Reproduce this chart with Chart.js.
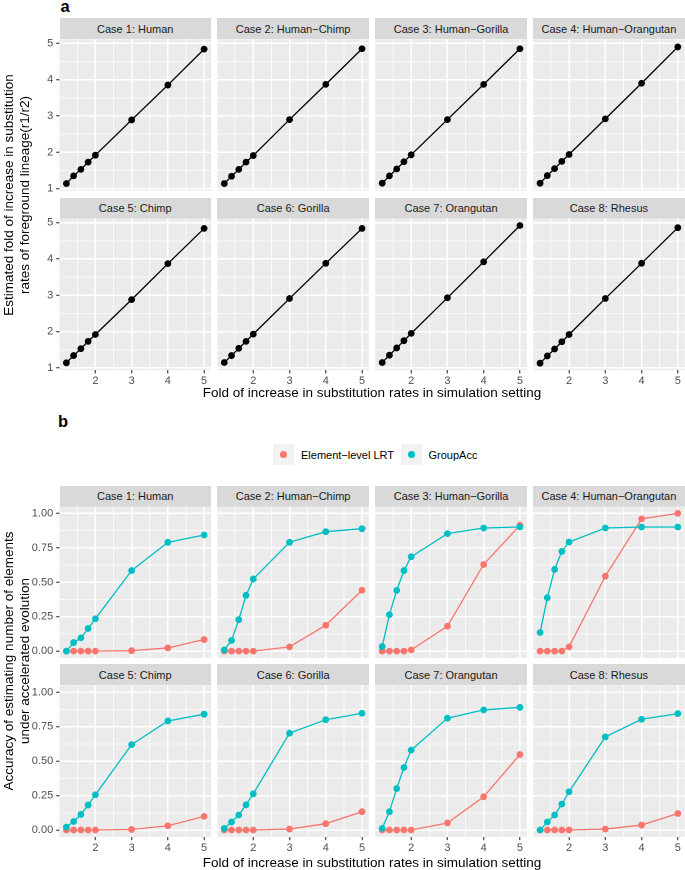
<!DOCTYPE html>
<html><head><meta charset="utf-8">
<script src="https://cdn.jsdelivr.net/npm/chart.js@4.4.0/dist/chart.umd.min.js"></script>
<style>
html,body{margin:0;padding:0;background:#fff;}
#wrap{position:relative;width:685px;height:870px;overflow:hidden;font-family:"Liberation Sans",Arial,Helvetica,sans-serif;}
.strip{position:absolute;background:#D9D9D9;color:#1A1A1A;font-size:11px;display:flex;align-items:center;justify-content:center;white-space:nowrap;}
.cv{position:absolute;}
.txt{position:absolute;white-space:nowrap;color:#000;line-height:1;}
</style></head><body><div id="wrap"></div>
<script>
const FONT = '"Liberation Sans", Arial, Helvetica, sans-serif';

// ---------- data ----------
const xValues = [1.2, 1.4, 1.6, 1.8, 2, 3, 4, 5];
const xMajorTicks = [2, 3, 4, 5];
const xMinorTicks = [1.5, 2.5, 3.5, 4.5];
const foldYMajorTicks = [1, 2, 3, 4, 5];
const foldYMinorTicks = [1.5, 2.5, 3.5, 4.5];
const accYMajorTicks = [0, 0.25, 0.5, 0.75, 1];
const accYMinorTicks = [0.125, 0.375, 0.625, 0.875];
const caseNames = ["Case 1: Human", "Case 2: Human\u2212Chimp", "Case 3: Human\u2212Gorilla", "Case 4: Human\u2212Orangutan",
                   "Case 5: Chimp", "Case 6: Gorilla", "Case 7: Orangutan", "Case 8: Rhesus"];
const seriesNames = ["Element\u2212level LRT", "GroupAcc"];

// panel a: estimated fold of increase (r1/r2)
const estFoldCase1 = [1.14, 1.35, 1.53, 1.73, 1.92, 2.89, 3.85, 4.84];
const estFoldCase2 = [1.14, 1.34, 1.53, 1.73, 1.91, 2.90, 3.87, 4.85];
const estFoldCase3 = [1.15, 1.35, 1.54, 1.74, 1.93, 2.90, 3.87, 4.85];
const estFoldCase4 = [1.15, 1.36, 1.55, 1.75, 1.94, 2.92, 3.90, 4.90];
const estFoldCase5 = [1.14, 1.34, 1.53, 1.73, 1.92, 2.88, 3.87, 4.84];
const estFoldCase6 = [1.15, 1.34, 1.54, 1.73, 1.93, 2.91, 3.88, 4.84];
const estFoldCase7 = [1.15, 1.35, 1.55, 1.75, 1.95, 2.93, 3.92, 4.92];
const estFoldCase8 = [1.13, 1.33, 1.52, 1.72, 1.92, 2.91, 3.88, 4.86];

// panel b: accuracy
const lrtCase1 = [0, 0, 0, 0, 0, 0.003, 0.023, 0.084];
const lrtCase2 = [0, 0, 0, 0, 0, 0.031, 0.188, 0.442];
const lrtCase3 = [0, 0, 0, 0, 0.009, 0.181, 0.629, 0.914];
const lrtCase4 = [0, 0, 0, 0, 0.031, 0.544, 0.960, 1.000];
const lrtCase5 = [0, 0, 0, 0, 0, 0.004, 0.031, 0.099];
const lrtCase6 = [0, 0, 0, 0, 0, 0.007, 0.046, 0.133];
const lrtCase7 = [0, 0, 0, 0, 0, 0.051, 0.241, 0.548];
const lrtCase8 = [0, 0, 0, 0, 0, 0.007, 0.036, 0.120];

const groupAccCase1 = [0.000, 0.062, 0.096, 0.164, 0.235, 0.585, 0.790, 0.843];
const groupAccCase2 = [0.009, 0.077, 0.228, 0.405, 0.524, 0.790, 0.867, 0.889];
const groupAccCase3 = [0.033, 0.265, 0.441, 0.585, 0.685, 0.853, 0.894, 0.901];
const groupAccCase4 = [0.135, 0.388, 0.593, 0.724, 0.792, 0.894, 0.901, 0.901];
const groupAccCase5 = [0.022, 0.062, 0.113, 0.181, 0.256, 0.620, 0.792, 0.841];
const groupAccCase6 = [0.012, 0.058, 0.109, 0.183, 0.263, 0.703, 0.801, 0.848];
const groupAccCase7 = [0.012, 0.133, 0.301, 0.454, 0.580, 0.812, 0.872, 0.891];
const groupAccCase8 = [0.000, 0.058, 0.109, 0.188, 0.278, 0.676, 0.804, 0.845];

const estFold = [estFoldCase1, estFoldCase2, estFoldCase3, estFoldCase4, estFoldCase5, estFoldCase6, estFoldCase7, estFoldCase8];
const lrt = [lrtCase1, lrtCase2, lrtCase3, lrtCase4, lrtCase5, lrtCase6, lrtCase7, lrtCase8];
const groupAcc = [groupAccCase1, groupAccCase2, groupAccCase3, groupAccCase4, groupAccCase5, groupAccCase6, groupAccCase7, groupAccCase8];

// ---------- styling / layout ----------
const COL_LRT = '#F8766D', COL_GA = '#00BFC4';
const PANEL_BG = '#EBEBEB';
const colLefts = [59.5, 217.4, 375.3, 533.2];
const PW = 151.5, PH = 151.5, STRIP_H = 21;
const aRowTops = [39.3, 218.6];
const bRowTops = [506.5, 685.4];
const X_MIN = 1.01, X_MAX = 5.19;
const TITLE_SIZE = 13.5;

const wrap = document.getElementById('wrap');
function addText(txt, x, y, size, opts = {}) {
  const d = document.createElement('div');
  d.className = 'txt';
  d.textContent = txt;
  d.style.fontSize = size + 'px';
  if (opts.bold) d.style.fontWeight = 'bold';
  if (opts.color) d.style.color = opts.color;
  d.style.left = x + 'px';
  d.style.top = y + 'px';
  let tr = 'translate(-50%,-50%)';
  if (opts.rot) tr += ' rotate(-90deg)';
  if (opts.anchor === 'left') tr = 'translate(0,-50%)';
  d.style.transform = tr;
  wrap.appendChild(d);
  return d;
}
function addStrip(txt, left, top, w) {
  const d = document.createElement('div');
  d.className = 'strip';
  d.style.left = left + 'px'; d.style.top = top + 'px';
  d.style.width = w + 'px'; d.style.height = STRIP_H + 'px';
  d.textContent = txt;
  wrap.appendChild(d);
}

const bgPlugin = {
  id: 'panelBg',
  beforeDraw(chart) {
    const a = chart.chartArea, c = chart.ctx;
    c.save(); c.fillStyle = PANEL_BG; c.fillRect(a.left, a.top, a.right - a.left, a.bottom - a.top); c.restore();
  }
};

function axisCfg(show, isY, min, max, major, minor, fmt, fixedSize) {
  const all = major.concat(minor).sort((p, q) => p - q);
  const isMajor = v => major.some(m => Math.abs(m - v) < 1e-9);
  return {
    type: 'linear', min, max, bounds: 'data',
    afterBuildTicks: s => { s.ticks = all.map(v => ({ value: v })); },
    afterFit: s => {
      if (isY) s.width = show ? fixedSize : 0; else s.height = show ? fixedSize : 0;
      s.paddingLeft = 0; s.paddingRight = 0; s.paddingTop = 0; s.paddingBottom = 0;
    },
    ticks: {
      display: show, autoSkip: false, maxRotation: 0, minRotation: 0,
      padding: isY ? 3 : 1, color: '#4D4D4D', font: { family: FONT, size: 11 },
      callback: v => isMajor(v) ? fmt(v) : ''
    },
    grid: {
      color: '#FFFFFF',
      lineWidth: ctx => (ctx.tick && isMajor(ctx.tick.value)) ? 1.5 : 0.75,
      drawTicks: show, tickLength: 3.3, tickWidth: 1.1,
      tickColor: ctx => (ctx.tick && isMajor(ctx.tick.value)) ? '#333333' : 'rgba(0,0,0,0)'
    },
    border: { display: false }
  };
}

function makePanel(p) {
  const M = 8, WY = 40, HX = 16;
  const extL = p.showY ? 48 : M;
  const extB = p.showX ? 22 : M;
  const cl = Math.floor(p.left - extL), ct = Math.floor(p.top - M);
  const cr = Math.ceil(p.left + PW + M), cb = Math.ceil(p.top + PH + extB);
  const cw = cr - cl, ch = cb - ct;
  const cv = document.createElement('canvas');
  cv.className = 'cv';
  cv.width = cw; cv.height = ch;
  cv.style.left = cl + 'px'; cv.style.top = ct + 'px';
  cv.style.width = cw + 'px'; cv.style.height = ch + 'px';
  wrap.appendChild(cv);
  const padding = {
    left: p.left - cl - (p.showY ? WY : 0),
    top: p.top - ct,
    right: cr - (p.left + PW),
    bottom: cb - (p.top + PH) - (p.showX ? HX : 0)
  };
  new Chart(cv, {
    type: 'line',
    data: { datasets: p.datasets },
    options: {
      responsive: false, animation: false, devicePixelRatio: 2,
      layout: { padding },
      plugins: { legend: { display: false }, tooltip: { enabled: false } },
      events: [],
      scales: {
        x: axisCfg(p.showX, false, X_MIN, X_MAX, xMajorTicks, xMinorTicks, v => String(v), HX),
        y: axisCfg(p.showY, true, p.yMin, p.yMax, p.yMajor, p.yMinor, p.yFmt, WY)
      }
    },
    plugins: [bgPlugin]
  });
}

function pts(ys) { return xValues.map((x, i) => ({ x, y: ys[i] })); }

// ---------- section a ----------
addText('a', 65, 5.5, 16.5, { bold: true });
for (let i = 0; i < 8; i++) {
  const r = Math.floor(i / 4), c = i % 4;
  addStrip(caseNames[i], colLefts[c], aRowTops[r] - STRIP_H, PW);
  makePanel({
    left: colLefts[c], top: aRowTops[r], showY: c === 0, showX: r === 1,
    yMin: 0.94, yMax: 5.11, yMajor: foldYMajorTicks, yMinor: foldYMinorTicks, yFmt: v => String(v),
    datasets: [{
      data: pts(estFold[i]), borderColor: '#000', backgroundColor: '#000', borderWidth: 1.3,
      pointRadius: 3.4, pointBorderWidth: 0, pointBackgroundColor: '#000', tension: 0, clip: false
    }]
  });
}
addText('Fold of increase in substitution rates in simulation setting', 372, 393, TITLE_SIZE);
addText('Estimated fold of increase in substitution', 8.5, 194.5, TITLE_SIZE, { rot: true });
addText('rates of foreground lineage(r1/r2)', 24.5, 194.5, TITLE_SIZE, { rot: true });

// ---------- section b ----------
addText('b', 63, 421, 16.5, { bold: true });
// legend
function legendKey(x, color) {
  const k = document.createElement('div');
  k.style.cssText = 'position:absolute;left:' + x + 'px;top:444px;width:21px;height:21px;background:#F2F2F2;';
  const dot = document.createElement('div');
  dot.style.cssText = 'position:absolute;left:7px;top:7px;width:7px;height:7px;border-radius:50%;background:' + color + ';';
  k.appendChild(dot);
  wrap.appendChild(k);
}
legendKey(272.5, COL_LRT);
addText(seriesNames[0], 301, 454.5, 11, { anchor: 'left' });
legendKey(400.5, COL_GA);
addText(seriesNames[1], 428.5, 454.5, 11, { anchor: 'left' });

for (let i = 0; i < 8; i++) {
  const r = Math.floor(i / 4), c = i % 4;
  addStrip(caseNames[i], colLefts[c], bRowTops[r] - STRIP_H, PW);
  const lineBase = { borderWidth: 1.3, pointRadius: 0, tension: 0, clip: false };
  const ptBase = { showLine: false, pointRadius: 3.4, pointBorderWidth: 0, clip: false };
  makePanel({
    left: colLefts[c], top: bRowTops[r], showY: c === 0, showX: r === 1,
    yMin: -0.05, yMax: 1.05, yMajor: accYMajorTicks, yMinor: accYMinorTicks, yFmt: v => v.toFixed(2),
    datasets: [
      Object.assign({ label: seriesNames[1], data: pts(groupAcc[i]), pointBackgroundColor: COL_GA, backgroundColor: COL_GA, borderColor: COL_GA }, ptBase),
      Object.assign({ label: seriesNames[0], data: pts(lrt[i]), pointBackgroundColor: COL_LRT, backgroundColor: COL_LRT, borderColor: COL_LRT }, ptBase),
      Object.assign({ label: seriesNames[1], data: pts(groupAcc[i]), borderColor: COL_GA, backgroundColor: COL_GA }, lineBase),
      Object.assign({ label: seriesNames[0], data: pts(lrt[i]), borderColor: COL_LRT, backgroundColor: COL_LRT }, lineBase)
    ]
  });
}
addText('Fold of increase in substitution rates in simulation setting', 372, 862.5, TITLE_SIZE);
addText('Accuracy of estimating number of elements', 8.5, 661, TITLE_SIZE, { rot: true });
addText('under accelerated evolution', 24.5, 661, TITLE_SIZE, { rot: true });
</script></body></html>
